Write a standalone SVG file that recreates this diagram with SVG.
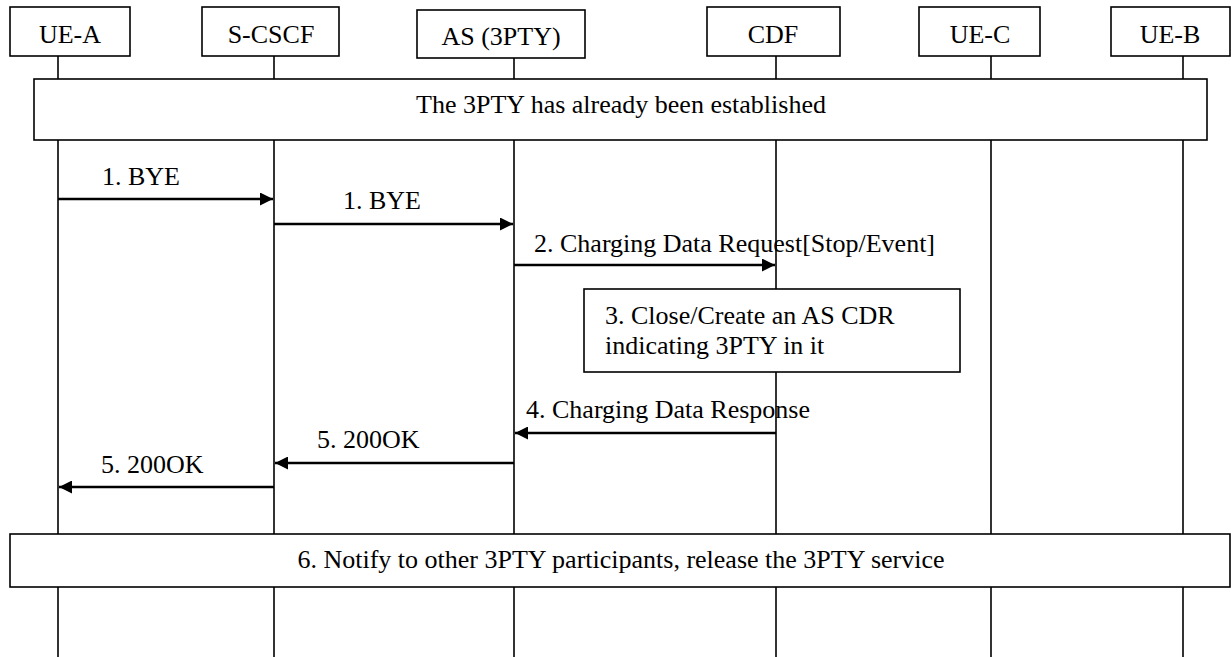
<svg xmlns="http://www.w3.org/2000/svg" width="1231" height="657" viewBox="0 0 1231 657">
<defs>
<style>
.box{fill:#fff;stroke:#000;stroke-width:1.6}
.life{stroke:#000;stroke-width:1.6}
.msg{stroke:#000;stroke-width:2.6;fill:none}
text{font-family:"Liberation Serif","Times New Roman",serif;font-size:26px;fill:#000}
.c{text-anchor:middle}
</style>
<marker id="ah" viewBox="0 0 10 10" refX="10" refY="5" markerWidth="5.4" markerHeight="5" markerUnits="strokeWidth" orient="auto">
<path d="M0,0 L10,5 L0,10 Z" fill="#000"/>
</marker>
</defs>
<rect width="1231" height="657" fill="#fff"/>
<g id="lifelines">
<line class="life" x1="58" y1="56" x2="58" y2="657"/>
<line class="life" x1="274" y1="56" x2="274" y2="657"/>
<line class="life" x1="514" y1="58" x2="514" y2="657"/>
<line class="life" x1="776" y1="56" x2="776" y2="657"/>
<line class="life" x1="991" y1="56" x2="991" y2="657"/>
<line class="life" x1="1183" y1="56" x2="1183" y2="657"/>
</g>
<g id="UE-A"><rect class="box" x="10" y="7" width="120" height="49"/><text class="c" x="70" y="43">UE-A</text></g>
<g id="S-CSCF"><rect class="box" x="202" y="7" width="137" height="49"/><text class="c" x="271" y="43">S-CSCF</text></g>
<g id="AS"><rect class="box" x="417" y="10" width="168" height="48"/><text class="c" x="501" y="45">AS (3PTY)</text></g>
<g id="CDF"><rect class="box" x="707" y="7" width="133" height="49"/><text class="c" x="773" y="43">CDF</text></g>
<g id="UE-C"><rect class="box" x="919" y="7" width="121" height="49"/><text class="c" x="980" y="43">UE-C</text></g>
<g id="UE-B"><rect class="box" x="1111" y="7" width="119" height="49"/><text class="c" x="1170" y="43">UE-B</text></g>
<g id="established"><rect class="box" x="34" y="79" width="1173" height="61"/><text class="c" x="621" y="113">The 3PTY has already been established</text></g>
<g id="cdr"><rect class="box" x="584" y="289" width="376" height="83"/><text x="605" y="324">3. Close/Create an AS CDR</text><text x="605" y="354">indicating 3PTY in it</text></g>
<g id="notify"><rect class="box" x="10" y="534" width="1220" height="53"/><text class="c" x="621" y="568">6. Notify to other 3PTY participants, release the 3PTY service</text></g>
<g id="connectors">
<line class="msg" x1="58" y1="199" x2="273" y2="199" marker-end="url(#ah)"/>
<line class="msg" x1="274" y1="224" x2="513" y2="224" marker-end="url(#ah)"/>
<line class="msg" x1="514" y1="265" x2="775" y2="265" marker-end="url(#ah)"/>
<line class="msg" x1="776" y1="433" x2="515" y2="433" marker-end="url(#ah)"/>
<line class="msg" x1="514" y1="463" x2="275" y2="463" marker-end="url(#ah)"/>
<line class="msg" x1="274" y1="487" x2="59" y2="487" marker-end="url(#ah)"/>
</g>
<g id="labels">
<text x="102" y="185">1. BYE</text>
<text x="343" y="209">1. BYE</text>
<text x="534" y="252">2. Charging Data Request[Stop/Event]</text>
<text x="526" y="418">4. Charging Data Response</text>
<text x="317" y="448">5. 200OK</text>
<text x="101" y="473">5. 200OK</text>
</g>
</svg>
